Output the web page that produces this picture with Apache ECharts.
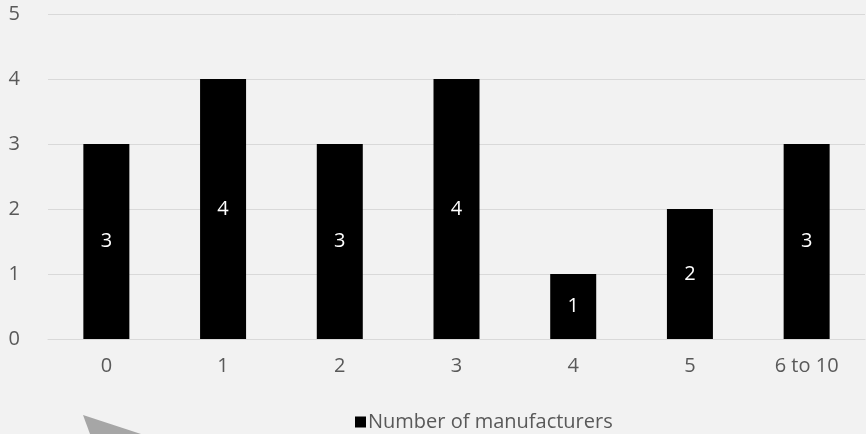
<!DOCTYPE html>
<html>
<head>
<meta charset="utf-8">
<script src="https://cdn.jsdelivr.net/npm/echarts@6/dist/echarts.min.js"></script>
<style>
  html, body { margin: 0; padding: 0; background: #f2f2f2; }
  #chart { width: 866px; height: 434px; }
</style>
</head>
<body>
<div id="chart"></div>
<script>
// Manufacturer counts per bucket
const categories = ['0', '1', '2', '3', '4', '5', '6 to 10'];
const manufacturers = [3, 4, 3, 4, 1, 2, 3];
const seriesName = 'Number of manufacturers';

const FONT = 'Open Sans';
const TEXT = '#595959';

const chart = echarts.init(document.getElementById('chart'), null, { renderer: 'canvas' });
chart.setOption({
  backgroundColor: '#f2f2f2',
  animation: false,
  textStyle: { fontFamily: FONT },
  grid: { left: 48, right: 1, top: 14, bottom: 95, containLabel: false },
  legend: {
    left: 350,
    top: 407,
    itemWidth: 11,
    itemHeight: 11,
    itemGap: 10,
    icon: 'rect',
    textStyle: { color: TEXT, fontSize: 20, fontFamily: FONT, padding: [0, 0, 0, -3] },
    data: [seriesName]
  },
  xAxis: {
    type: 'category',
    data: categories,
    axisLine: { show: true, lineStyle: { color: '#d9d9d9', width: 1 } },
    axisTick: { show: false },
    axisLabel: { color: TEXT, fontSize: 20, fontFamily: FONT, margin: 17 }
  },
  yAxis: {
    type: 'value',
    min: 0,
    max: 5,
    interval: 1,
    axisLine: { show: false },
    axisTick: { show: false },
    splitLine: { lineStyle: { color: '#d9d9d9', width: 1 } },
    axisLabel: { color: TEXT, fontSize: 20, fontFamily: FONT, margin: 28 }
  },
  series: [{
    name: seriesName,
    type: 'bar',
    data: manufacturers,
    barWidth: 46,
    itemStyle: { color: '#000000' },
    label: {
      show: true,
      position: 'inside',
      color: '#ffffff',
      fontSize: 20,
      fontFamily: FONT
    }
  }],
  graphic: [{
    type: 'polygon',
    shape: { points: [[83, 415], [141, 434], [90, 434]] },
    style: { fill: '#a6a6a6' }
  }]
});
</script>
</body>
</html>
